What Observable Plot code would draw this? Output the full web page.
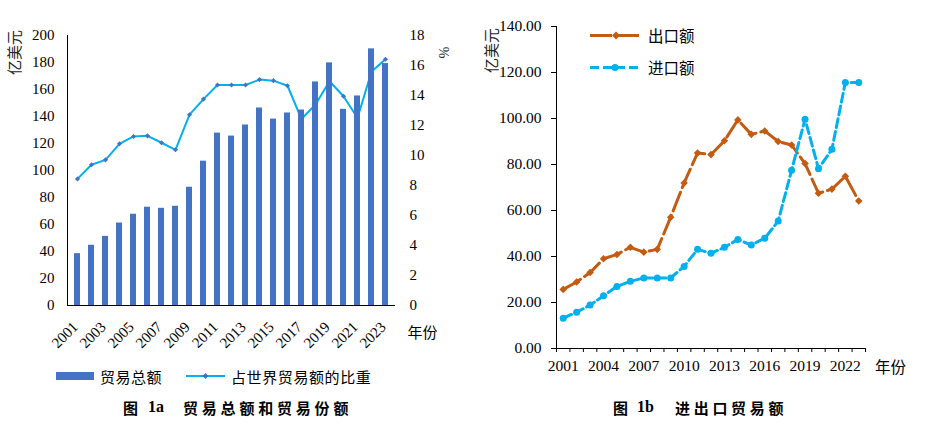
<!DOCTYPE html>
<html>
<head>
<meta charset="utf-8">
<script src="https://cdn.jsdelivr.net/npm/d3@7"></script>
<script src="https://cdn.jsdelivr.net/npm/@observablehq/plot@0.6"></script>
<style>
  body { margin: 0; background: #fff; }
  #wrap { position: relative; width: 930px; height: 424px; overflow: hidden; font-family: "Liberation Serif", "Times New Roman", Times, "DejaVu Serif", "Noto Sans CJK SC", serif; color: #000; }
  #wrap svg.plot { position: absolute; top: 0; }
  .t { position: absolute; white-space: nowrap; transform: translateY(-50%); font-size: 15.5px; line-height: 1; font-family: "Noto Sans CJK SC", sans-serif; }
  .cap { position: absolute; white-space: nowrap; transform: translateY(-50%); font-size: 15px; font-weight: bold; line-height: 1; font-family: "Noto Sans CJK SC", sans-serif; }
  .num { font-family: "Liberation Serif", "Times New Roman", Times, "DejaVu Serif", serif; font-size: 16px; }
</style>
</head>
<body>
<div id="wrap">
  <!-- left legend -->
  <div style="position:absolute;left:56px;top:372px;width:38px;height:8px;background:#4472C4"></div>
  <div class="t" style="left:100px;top:376px;font-size:15px;letter-spacing:0.5px">贸易总额</div>
  <svg style="position:absolute;left:186px;top:368px" width="40" height="16">
    <line x1="0" x2="39" y1="8" y2="8" stroke="#00B0F0" stroke-width="2"/>
    <path d="M19.5,5 L22.5,8 L19.5,11 L16.5,8Z" fill="#4472C4"/>
  </svg>
  <div class="t" style="left:231px;top:376px;font-size:15px;letter-spacing:0.6px">占世界贸易额的比重</div>
  <!-- right legend -->
  <svg style="position:absolute;left:590px;top:26px" width="54" height="52">
    <line x1="0" x2="52" y1="9.5" y2="9.5" stroke="#C55A11" stroke-width="3" stroke-dasharray="22,5"/>
    <path d="M26,5.5 L30,9.5 L26,13.5 L22,9.5Z" fill="#C55A11"/>
    <line x1="0" x2="52" y1="41.5" y2="41.5" stroke="#00B0F0" stroke-width="3" stroke-dasharray="9,4"/>
    <circle cx="25" cy="41.5" r="3.5" fill="#00B0F0"/>
  </svg>
  <div class="t" style="left:648px;top:36px">出口额</div>
  <div class="t" style="left:648px;top:68px">进口额</div>
  <!-- captions -->
  <div class="cap" style="left:123px;top:407px">图</div>
  <div class="cap num" style="left:148px;top:407px">1a</div>
  <div class="cap" style="left:183px;top:407px;letter-spacing:3.8px">贸易总额和贸易份额</div>
  <div class="cap" style="left:613px;top:407px">图</div>
  <div class="cap num" style="left:637px;top:407px">1b</div>
  <div class="cap" style="left:675px;top:407px;letter-spacing:3.7px">进出口贸易额</div>
</div>
<script>
// ---- data ----
const years = [2001, 2002, 2003, 2004, 2005, 2006, 2007, 2008, 2009, 2010, 2011, 2012,
               2013, 2014, 2015, 2016, 2017, 2018, 2019, 2020, 2021, 2022, 2023];
// 贸易总额 (亿美元)
const totalTrade = [38.4, 44.6, 51.2, 61.1, 67.6, 72.8, 72.0, 73.5, 87.6, 106.9, 127.7, 125.5,
                    133.7, 146.3, 138.1, 142.6, 144.8, 165.6, 179.7, 145.3, 155.2, 190.1, 179.2];
// 占世界贸易额的比重 (%)
const worldShare = [8.44, 9.38, 9.71, 10.78, 11.27, 11.31, 10.85, 10.38, 12.72, 13.76, 14.70, 14.70,
                    14.70, 15.06, 14.99, 14.65, 12.43, 13.4, 14.95, 13.95, 12.5, 15.6, 16.42];
// 出口额 / 进口额 (亿美元)
const exportsVal = [25.7, 28.9, 33.0, 39.0, 40.9, 44.0, 41.9, 43.1, 57.1, 72.0, 85.0, 84.3,
                    90.3, 99.4, 93.1, 94.6, 90.0, 88.5, 80.4, 67.5, 69.3, 74.9, 64.1];
const importsVal = [13.2, 15.8, 18.9, 22.9, 27.0, 29.2, 30.7, 30.7, 30.7, 35.7, 43.1, 41.4,
                    44.0, 47.4, 45.0, 47.9, 55.4, 77.5, 99.7, 78.2, 86.6, 115.7, 115.7];
// tick labels
const leftTicks = [0, 20, 40, 60, 80, 100, 120, 140, 160, 180, 200];
const shareTicks = [0, 2, 4, 6, 8, 10, 12, 14, 16, 18];
const leftYearLabels = [2001, 2003, 2005, 2007, 2009, 2011, 2013, 2015, 2017, 2019, 2021, 2023];
const rightTicks = [0, 20, 40, 60, 80, 100, 120, 140];
const rightYearLabels = [2001, 2004, 2007, 2010, 2013, 2016, 2019, 2022];

const SERIF = "Liberation Serif, Times New Roman, Times, DejaVu Serif, Noto Sans CJK SC, serif";
const CJK = "Noto Sans CJK SC, sans-serif";
const shareMax = 18, totalMax = 200;
const toLeft = v => v * totalMax / shareMax;

const wrap = document.getElementById("wrap");

// ---- left chart ----
const left = Plot.plot({
  width: 465, height: 424,
  marginLeft: 67, marginRight: 70, marginTop: 35, marginBottom: 119,
  style: {fontFamily: SERIF, fontSize: "15px", color: "#000", background: "transparent", overflow: "visible"},
  x: {type: "band", domain: years, paddingInner: 0.58, paddingOuter: 0.29, axis: null},
  y: {domain: [0, totalMax], axis: null},
  marks: [
    Plot.axisY(leftTicks, {anchor: "left", tickSize: 0, tickPadding: 13, tickFormat: d => d, fontFamily: SERIF}),
    Plot.axisY(shareTicks.map(toLeft), {anchor: "right", tickSize: 0, tickPadding: 14, fontFamily: SERIF,
      tickFormat: v => Math.round(v * shareMax / totalMax)}),
    Plot.line(years, {x: d => d, y: (d, i) => toLeft(worldShare[i]), stroke: "#00B0F0", strokeWidth: 2}),
    Plot.dot(years, {x: d => d, y: (d, i) => toLeft(worldShare[i]), symbol: "diamond2", r: 2.3, fill: "#4472C4", stroke: "none"}),
    Plot.barY(years, {x: d => d, y: (d, i) => totalTrade[i], fill: "#4472C4"}),
    Plot.ruleY([0], {stroke: "#000", strokeWidth: 1}),
    Plot.frame({anchor: "left", stroke: "#000"}),
    Plot.text(leftYearLabels, {x: d => d, frameAnchor: "bottom", text: d => String(d), rotate: -45,
      textAnchor: "end", lineAnchor: "middle", dx: -2, dy: 19, fontSize: 15, fontFamily: SERIF}),
    Plot.text(["亿美元"], {frameAnchor: "top-left", textAnchor: "middle", lineAnchor: "middle", dx: -52, dy: 17, rotate: -90, fontFamily: CJK, fontSize: 15, fill: "#222"}),
    Plot.text(["%"], {frameAnchor: "top-right", textAnchor: "middle", lineAnchor: "middle", dx: 48, dy: 17, rotate: 90, fontSize: 14, fill: "#222", fontFamily: SERIF}),
    Plot.text(["年份"], {frameAnchor: "bottom-right", textAnchor: "middle", lineAnchor: "middle", dx: 27, dy: 28, fontFamily: CJK, fontSize: 15})
  ]
});
left.classList.add("plot");
left.style.left = "0px";
wrap.appendChild(left);

// ---- right chart ----
const boundaries = d3.range(years.length + 1).map(i => years[0] - 0.5 + i);
const right = Plot.plot({
  width: 465, height: 424,
  marginLeft: 91, marginRight: 65, marginTop: 26, marginBottom: 76,
  style: {fontFamily: SERIF, fontSize: "15.5px", color: "#000", background: "transparent", overflow: "visible"},
  x: {domain: [years[0] - 0.5, years[years.length - 1] + 0.5], axis: null},
  y: {domain: [0, 140], axis: null},
  marks: [
    Plot.axisY(rightTicks, {anchor: "left", tickSize: 5, tickPadding: 10, tickFormat: d3.format(".2f"), fontFamily: SERIF}),
    Plot.axisX(boundaries, {anchor: "bottom", tickSize: 4, tickFormat: () => ""}),
    Plot.axisX(rightYearLabels, {anchor: "bottom", tickSize: 0, tickPadding: 11, tickFormat: d => String(d), fontFamily: SERIF}),
    Plot.ruleY([0], {stroke: "#000"}),
    Plot.frame({anchor: "left", stroke: "#000"}),
    Plot.line(years, {x: d => d, y: (d, i) => exportsVal[i], stroke: "#C55A11", strokeWidth: 3, strokeDasharray: "20,5"}),
    Plot.dot(years, {x: d => d, y: (d, i) => exportsVal[i], symbol: "diamond2", r: 3.4, fill: "#C55A11", stroke: "none"}),
    Plot.line(years, {x: d => d, y: (d, i) => importsVal[i], stroke: "#00B0F0", strokeWidth: 3, strokeDasharray: "9,4"}),
    Plot.dot(years, {x: d => d, y: (d, i) => importsVal[i], symbol: "circle", r: 3.5, fill: "#00B0F0", stroke: "none"}),
    Plot.text(["亿美元"], {frameAnchor: "top-left", textAnchor: "middle", lineAnchor: "middle", dx: -64, dy: 24, rotate: -90, fontFamily: CJK, fontSize: 15, fill: "#222"}),
    Plot.text(["年份"], {frameAnchor: "bottom-right", textAnchor: "middle", lineAnchor: "middle", dx: 25, dy: 20, fontFamily: CJK, fontSize: 15.5})
  ]
});
right.classList.add("plot");
right.style.left = "465px";
wrap.appendChild(right);
</script>
</body>
</html>
